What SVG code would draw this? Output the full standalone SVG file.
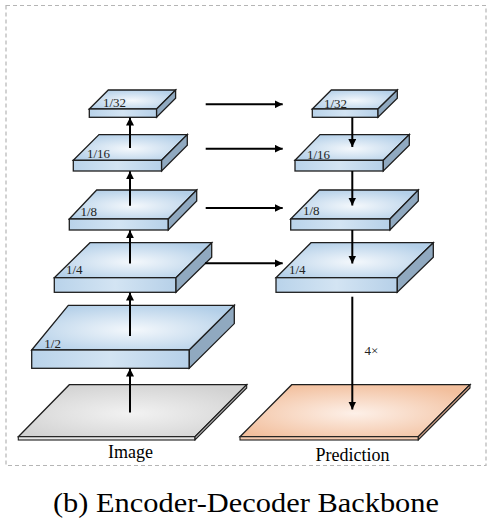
<svg xmlns="http://www.w3.org/2000/svg" width="492" height="524" viewBox="0 0 492 524">
<defs>
<radialGradient id="gTop" cx="0.5" cy="0.55" r="0.6">
<stop offset="0" stop-color="#f4f8fc"/>
<stop offset="1" stop-color="#b3cfe8"/>
</radialGradient>
<linearGradient id="gFront" x1="0" y1="0" x2="1" y2="0">
<stop offset="0" stop-color="#b9d3ea"/>
<stop offset="0.5" stop-color="#d3e4f3"/>
<stop offset="1" stop-color="#b6d0e8"/>
</linearGradient>
<radialGradient id="gGray" cx="0.5" cy="0.55" r="0.6">
<stop offset="0" stop-color="#f2f2f2"/>
<stop offset="1" stop-color="#d2d2d2"/>
</radialGradient>
<radialGradient id="gPeach" cx="0.5" cy="0.55" r="0.6">
<stop offset="0" stop-color="#fdf0e8"/>
<stop offset="1" stop-color="#f2bf9d"/>
</radialGradient>
<marker id="ah" viewBox="0 0 10 10" refX="10" refY="5" markerWidth="8" markerHeight="8" markerUnits="userSpaceOnUse" orient="auto">
<path d="M0,0 L10,5 L0,10 Z" fill="#000"/>
</marker>
</defs>
<style>
.top{fill:url(#gTop);stroke:#1e1e1e;stroke-width:1.3;stroke-linejoin:miter}
.front{fill:url(#gFront);stroke:#1e1e1e;stroke-width:1.3}
.side{fill:#90a9c0;stroke:#1e1e1e;stroke-width:1.3;stroke-linejoin:miter}
.gtop{fill:url(#gGray);stroke:#1e1e1e;stroke-width:1.3}
.gfront{fill:#e6e6e6;stroke:#1e1e1e;stroke-width:1.1}
.gside{fill:#a8a8a8;stroke:#1e1e1e;stroke-width:1.1}
.ptop{fill:url(#gPeach);stroke:#1e1e1e;stroke-width:1.3}
.pfront{fill:#f5cbb0;stroke:#1e1e1e;stroke-width:1.1}
.pside{fill:#c89a80;stroke:#1e1e1e;stroke-width:1.1}
.lbl{font-family:"Liberation Serif",serif;font-size:13px;fill:#222}
.cap{font-family:"Liberation Serif",serif;font-size:18px;fill:#000}
.conn line{stroke:#000;stroke-width:2;marker-end:url(#ah)}
</style>
<rect x="6" y="5.5" width="480" height="460" fill="none" stroke="#b5b5b5" stroke-width="1.2" stroke-dasharray="4,3"/>

<g id="enc32">
<path class="top" d="M89.3,109 L108.3,90 L175.6,90 L156.6,109 Z"/>
<rect class="front" x="89.3" y="109" width="67.3" height="8.3"/>
<path class="side" d="M156.6,109 L175.6,90 L175.6,98.3 L156.6,117.3 Z"/>
<text class="lbl" x="103" y="106.5">1/32</text>
</g>
<g id="enc16">
<path class="top" d="M73.3,160.3 L99,134.6 L187.3,134.6 L161.6,160.3 Z"/>
<rect class="front" x="73.3" y="160.3" width="88.3" height="10.7"/>
<path class="side" d="M161.6,160.3 L187.3,134.6 L187.3,145.3 L161.6,171 Z"/>
<text class="lbl" x="87" y="157.5">1/16</text>
</g>
<g id="enc8">
<path class="top" d="M69.3,219 L96.7,190 L196.7,190 L168.3,219 Z"/>
<rect class="front" x="69.3" y="219" width="99" height="11"/>
<path class="side" d="M168.3,219 L196.7,190 L196.7,201 L168.3,230 Z"/>
<text class="lbl" x="80.5" y="215.5">1/8</text>
</g>
<g id="enc4">
<path class="top" d="M54.3,277.7 L90,242.7 L211.7,242.7 L176,277.7 Z"/>
<rect class="front" x="54.3" y="277.7" width="121.7" height="14.6"/>
<path class="side" d="M176,277.7 L211.7,242.7 L211.7,257.3 L176,292.3 Z"/>
<text class="lbl" x="66" y="274.3">1/4</text>
</g>
<g id="enc2">
<path class="top" d="M31.7,350 L68.3,305.3 L234.3,305.3 L189.3,350 Z"/>
<rect class="front" x="31.7" y="350" width="157.6" height="18.3"/>
<path class="side" d="M189.3,350 L234.3,305.3 L234.3,323.6 L189.3,368.3 Z"/>
<text class="lbl" x="44.3" y="347.5">1/2</text>
</g>
<g id="image">
<path class="gtop" d="M18.3,436.7 L69.3,384.7 L246.7,384.7 L195,436.7 Z"/>
<rect class="gfront" x="18.3" y="436.7" width="176.7" height="3.3"/>
<path class="gside" d="M195,436.7 L246.7,384.7 L246.7,388 L195,440 Z"/>
<text class="cap" x="130.5" y="458.3" text-anchor="middle">Image</text>
</g>

<g id="dec32">
<path class="top" d="M312.3,109 L331.3,90 L397.3,90 L378,109 Z"/>
<rect class="front" x="312.3" y="109" width="65.7" height="8.3"/>
<path class="side" d="M378,109 L397.3,90 L397.3,98.3 L378,117.3 Z"/>
<text class="lbl" x="324" y="108">1/32</text>
</g>
<g id="dec16">
<path class="top" d="M295,160.3 L320,134.6 L409.3,134.6 L383.3,160.3 Z"/>
<rect class="front" x="295" y="160.3" width="88.3" height="10.7"/>
<path class="side" d="M383.3,160.3 L409.3,134.6 L409.3,145.3 L383.3,171 Z"/>
<text class="lbl" x="307" y="159.3">1/16</text>
</g>
<g id="dec8">
<path class="top" d="M290.7,219 L319.3,190 L418.3,190 L390,219 Z"/>
<rect class="front" x="290.7" y="219" width="99.3" height="11"/>
<path class="side" d="M390,219 L418.3,190 L418.3,201 L390,230 Z"/>
<text class="lbl" x="303" y="215">1/8</text>
</g>
<g id="dec4">
<path class="top" d="M276,277.7 L311,242.7 L433.3,242.7 L397.3,277.7 Z"/>
<rect class="front" x="276" y="277.7" width="121.3" height="14.6"/>
<path class="side" d="M397.3,277.7 L433.3,242.7 L433.3,257.3 L397.3,292.3 Z"/>
<text class="lbl" x="289" y="274.3">1/4</text>
</g>
<g id="prediction">
<path class="ptop" d="M240,436.7 L291.7,384.7 L470,384.7 L418.3,436.7 Z"/>
<rect class="pfront" x="240" y="436.7" width="178.3" height="3.3"/>
<path class="pside" d="M418.3,436.7 L470,384.7 L470,388 L418.3,440 Z"/>
<text class="cap" x="352.5" y="460.7" text-anchor="middle">Prediction</text>
</g>

<g class="conn">
<line x1="130" y1="412.5" x2="130" y2="368.5"/>
<line x1="130" y1="336" x2="130" y2="292.5"/>
<line x1="130" y1="263.5" x2="130" y2="230.3"/>
<line x1="130" y1="205.7" x2="130" y2="171.3"/>
<line x1="130" y1="148" x2="130" y2="117.6"/>
<line x1="352.3" y1="117.3" x2="352.3" y2="147"/>
<line x1="352.3" y1="171" x2="352.3" y2="205.5"/>
<line x1="352.3" y1="230" x2="352.3" y2="263.5"/>
<line x1="352.3" y1="296.7" x2="352.3" y2="409.5"/>
<line x1="205.7" y1="104.3" x2="282.7" y2="104.3"/>
<line x1="205.7" y1="148.7" x2="282.7" y2="148.7"/>
<line x1="205.7" y1="208" x2="282.7" y2="208"/>
<line x1="205" y1="263.3" x2="282.7" y2="263.3"/>
</g>
<text x="364.5" y="354.5" font-family="Liberation Serif,serif" font-size="13" fill="#222">4×</text>
<text x="246" y="511.7" text-anchor="middle" font-family="Liberation Serif,serif" font-size="28" textLength="386" lengthAdjust="spacingAndGlyphs" fill="#000">(b) Encoder-Decoder Backbone</text>
</svg>
